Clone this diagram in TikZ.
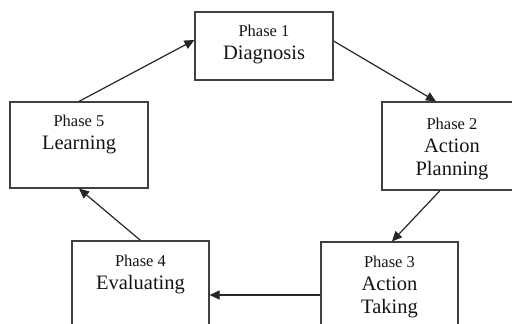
\documentclass[tikz,border=0pt]{standalone}
\usepackage{fontspec}
\setmainfont{Liberation Serif}
\usetikzlibrary{arrows.meta}
\begin{document}
\begin{tikzpicture}[x=1bp,y=-1bp,
  phasebox/.style={draw=black!75,line width=1.2bp,rectangle,inner sep=0pt},
  lbl/.style={align=center,inner sep=0pt,text=black!92,
    font=\fontsize{20.5bp}{23bp}\selectfont},
  conn/.style={draw=black!85,line width=1.2bp,-{Triangle[length=10bp,width=9bp]}}]
\useasboundingbox (0,0) rectangle (512,323);
\clip (0,0) rectangle (512,323);
\newcommand{\phs}[1]{{\fontsize{16.5bp}{23bp}\selectfont Phase #1}}
% boxes
\node[phasebox,minimum width=138bp,minimum height=68bp] (b1) at (264,46) {};
\node[phasebox,minimum width=140bp,minimum height=88bp] (b2) at (452,146) {};
\node[phasebox,minimum width=137bp,minimum height=108bp] (b3) at (389.5,296) {};
\node[phasebox,minimum width=137bp,minimum height=108bp] (b4) at (140.5,295) {};
\node[phasebox,minimum width=138bp,minimum height=86bp] (b5) at (79,145) {};
% labels (anchor base = baseline of the last line)
\node[lbl,anchor=base] (t1) at ([yshift=-48bp]b1.north) {\phs{1}\\Diagnosis};
\node[lbl,anchor=base] (t2) at ([yshift=-74bp]b2.north) {\phs{2}\\Action\\Planning};
\node[lbl,anchor=base] (t3) at ([yshift=-72bp]b3.north) {\phs{3}\\Action\\Taking};
\node[lbl,anchor=base] (t4) at ([yshift=-49bp]b4.north) {\phs{4}\\Evaluating};
\node[lbl,anchor=base] (t5) at ([yshift=-48bp]b5.north) {\phs{5}\\Learning};
% connectors
\draw[conn] ([yshift=5bp]b1.east) -- ([xshift=-16bp]b2.north);
\draw[conn] ([xshift=-12bp]b2.south) -- ([xshift=2.5bp]b3.north);
\draw[conn] ([yshift=1bp]b3.west) -- (b4.east);
\draw[conn] (b4.north) -- (b5.south);
\draw[conn] (b5.north) -- ([yshift=6bp]b1.west);
\end{tikzpicture}
\end{document}
